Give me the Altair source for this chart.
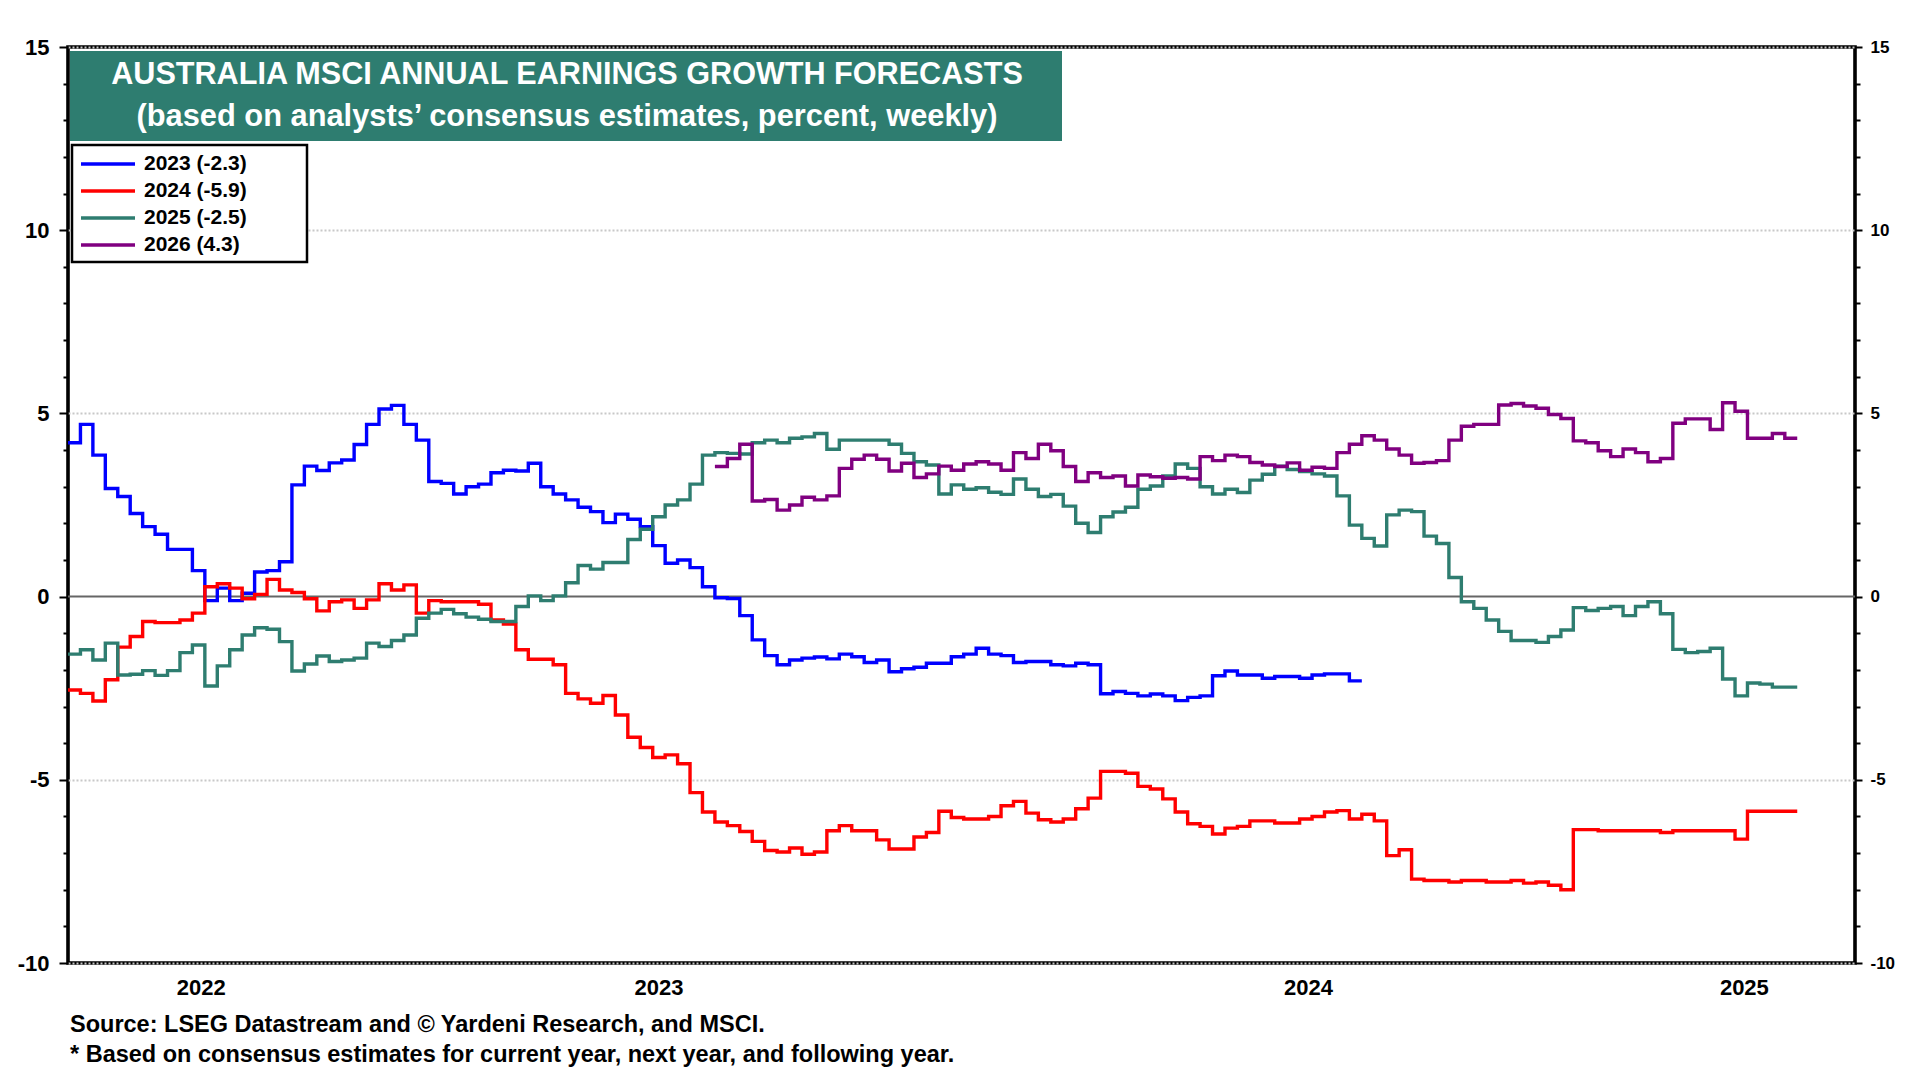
import altair as alt
import pandas as pd

FONT = "Liberation Sans"

TITLE_LINES = [
    "AUSTRALIA MSCI ANNUAL EARNINGS GROWTH FORECASTS",
    "(based on analysts\u2019 consensus estimates, percent, weekly)",
]
FOOTER_LINES = [
    "Source: LSEG Datastream and \u00a9 Yardeni Research, and MSCI.",
    "* Based on consensus estimates for current year, next year, and following year.",
]

SERIES = ["2023", "2024", "2025", "2026"]
COLORS = ["#0000ff", "#ff0000", "#2e7d70", "#800080"]
FIRST_WEEK = "2022-08-04"
START_INDEX = [0, 0, 0, 52]   # week index at which each series begins

V2023 = [
    4.2, 4.7, 3.86, 2.95, 2.73, 2.27, 1.91, 1.7, 1.29, 1.29,
    0.71, -0.11, 0.23, -0.11, 0.09, 0.67, 0.71, 0.95, 3.05, 3.56,
    3.44, 3.65, 3.73, 4.15, 4.7, 5.12, 5.22, 4.7, 4.27, 3.14,
    3.09, 2.8, 3.0, 3.07, 3.38, 3.45, 3.43, 3.64, 3.0, 2.8,
    2.64, 2.44, 2.32, 2.02, 2.25, 2.11, 1.91, 1.39, 0.91, 1.0,
    0.79, 0.27, -0.03, -0.05, -0.52, -1.18, -1.61, -1.86, -1.73, -1.68,
    -1.65, -1.7, -1.57, -1.64, -1.8, -1.73, -2.05, -1.97, -1.93, -1.82,
    -1.82, -1.64, -1.57, -1.41, -1.57, -1.61, -1.8, -1.77, -1.77, -1.86,
    -1.89, -1.82, -1.86, -2.65, -2.59, -2.64, -2.71, -2.66, -2.71, -2.84,
    -2.75, -2.71, -2.16, -2.03, -2.14, -2.14, -2.23, -2.18, -2.18, -2.23,
    -2.14, -2.11, -2.11, -2.3,
]
V2024 = [
    -2.55, -2.64, -2.85, -2.27, -1.38, -1.09, -0.68, -0.71, -0.71, -0.64,
    -0.45, 0.27, 0.35, 0.23, -0.06, 0.06, 0.47, 0.18, 0.11, -0.06,
    -0.39, -0.14, -0.09, -0.32, -0.09, 0.35, 0.18, 0.32, -0.45, -0.11,
    -0.14, -0.14, -0.14, -0.21, -0.64, -0.75, -1.45, -1.71, -1.71, -1.86,
    -2.64, -2.79, -2.91, -2.7, -3.23, -3.84, -4.12, -4.39, -4.32, -4.56,
    -5.35, -5.88, -6.15, -6.25, -6.41, -6.68, -6.93, -6.97, -6.86, -7.03,
    -6.97, -6.39, -6.25, -6.39, -6.39, -6.64, -6.89, -6.89, -6.56, -6.44,
    -5.86, -6.03, -6.07, -6.07, -6.0, -5.71, -5.59, -5.91, -6.09, -6.15,
    -6.07, -5.79, -5.5, -4.77, -4.77, -4.82, -5.18, -5.25, -5.52, -5.88,
    -6.2, -6.27, -6.48, -6.32, -6.27, -6.12, -6.12, -6.18, -6.18, -6.07,
    -6.0, -5.88, -5.84, -6.07, -5.94, -6.12, -7.07, -6.91, -7.71, -7.75,
    -7.75, -7.79, -7.75, -7.75, -7.79, -7.79, -7.75, -7.82, -7.79, -7.88,
    -8.0, -6.36, -6.36, -6.39, -6.39, -6.39, -6.39, -6.39, -6.44, -6.39,
    -6.39, -6.39, -6.39, -6.39, -6.62, -5.86, -5.86, -5.86, -5.86,
]
V2025 = [
    -1.57, -1.45, -1.73, -1.27, -2.14, -2.12, -2.02, -2.15, -2.02, -1.53,
    -1.32, -2.44, -1.89, -1.45, -1.05, -0.85, -0.89, -1.23, -2.03, -1.84,
    -1.62, -1.77, -1.73, -1.68, -1.27, -1.36, -1.2, -1.05, -0.59, -0.45,
    -0.35, -0.47, -0.56, -0.62, -0.68, -0.68, -0.27, 0.02, -0.11, 0.02,
    0.38, 0.85, 0.75, 0.93, 0.93, 1.56, 1.84, 2.18, 2.5, 2.64,
    3.07, 3.86, 3.93, 3.91, 3.89, 4.2, 4.27, 4.2, 4.32, 4.36,
    4.45, 4.02, 4.27, 4.27, 4.27, 4.27, 4.16, 3.91, 3.68, 3.59,
    2.8, 3.05, 2.93, 2.97, 2.85, 2.79, 3.21, 2.93, 2.73, 2.79,
    2.47, 2.0, 1.75, 2.18, 2.31, 2.44, 2.93, 3.02, 3.29, 3.62,
    3.5, 3.0, 2.8, 2.93, 2.84, 3.18, 3.34, 3.56, 3.47, 3.41,
    3.35, 3.29, 2.75, 1.95, 1.59, 1.38, 2.23, 2.36, 2.32, 1.65,
    1.45, 0.52, -0.14, -0.32, -0.64, -0.95, -1.2, -1.2, -1.25, -1.09,
    -0.91, -0.3, -0.38, -0.32, -0.27, -0.52, -0.27, -0.14, -0.47, -1.44,
    -1.53, -1.5, -1.41, -2.25, -2.71, -2.36, -2.39, -2.47, -2.47,
]
V2026 = [
    3.55, 3.77, 4.16, 2.61, 2.65, 2.36, 2.5, 2.71, 2.64, 2.75,
    3.5, 3.75, 3.86, 3.75, 3.43, 3.64, 3.25, 3.35, 3.56, 3.45,
    3.62, 3.68, 3.62, 3.45, 3.93, 3.77, 4.16, 3.98, 3.55, 3.14,
    3.38, 3.25, 3.29, 3.02, 3.32, 3.27, 3.23, 3.25, 3.21, 3.82,
    3.71, 3.86, 3.82, 3.66, 3.59, 3.55, 3.65, 3.45, 3.53, 3.5,
    3.93, 4.16, 4.39, 4.27, 4.03, 3.86, 3.64, 3.66, 3.71, 4.27,
    4.65, 4.7, 4.7, 5.23, 5.27, 5.2, 5.14, 4.97, 4.86, 4.25,
    4.2, 3.98, 3.82, 4.03, 3.93, 3.68, 3.77, 4.73, 4.85, 4.85,
    4.56, 5.29, 5.06, 4.32, 4.32, 4.45, 4.32,
]

X_START = (2022, 8, 4, 0)
X_END = (2025, 5, 5, 12)
YEARS = [2022, 2023, 2024, 2025]
Y_DOMAIN = [-10, 15]

W, H = 1787, 916

# ---------------------------------------------------------------- data
values = [V2023, V2024, V2025, V2026]
n_weeks = max(s + len(v) for s, v in zip(START_INDEX, values)) + 1
weeks = pd.date_range(FIRST_WEEK, periods=n_weeks, freq="7D")
labels = [f"{n} ({v[-1]:.1f})" for n, v in zip(SERIES, values)]
rows = []
for order, (lab, s, vals) in enumerate(zip(labels, START_INDEX, values)):
    pts = list(vals) + [vals[-1]]  # hold the last weekly reading through its week
    for i, v in enumerate(pts):
        rows.append({"date": weeks[s + i], "value": v, "series": lab, "o": order})
df = pd.DataFrame(rows)

d0 = pd.Timestamp(year=X_START[0], month=X_START[1], day=X_START[2], hour=X_START[3])
d1 = pd.Timestamp(year=X_END[0], month=X_END[1], day=X_END[2], hour=X_END[3])
ylab = []
for y in YEARS:
    a = max(pd.Timestamp(year=y, month=1, day=1), d0)
    b = min(pd.Timestamp(year=y + 1, month=1, day=1), d1)
    ylab.append({"mid": a + (b - a) / 2, "label": str(y)})
ylab_df = pd.DataFrame(ylab)

quarters = [t for t in pd.date_range("2022-01-01", "2025-12-31", freq="QS") if d0 <= t <= d1]
x_vals = [alt.DateTime(year=t.year, month=t.month, date=1) for t in quarters]

x_scale = alt.Scale(
    domain=[
        alt.DateTime(year=X_START[0], month=X_START[1], date=X_START[2], hours=X_START[3]),
        alt.DateTime(year=X_END[0], month=X_END[1], date=X_END[2], hours=X_END[3]),
    ],
    nice=False,
)
y_scale = alt.Scale(domain=Y_DOMAIN, nice=False, zero=False)

x_axis = alt.Axis(
    values=x_vals, labels=False, title=None, domain=False,
    tickColor="black", tickWidth=2,
    tickSize={"condition": {"test": "month(datum.value) === 0", "value": 8}, "value": 4},
    grid=True, gridColor="#c8c8c8", gridWidth=2, gridDash=[3, 3],
    gridOpacity={"condition": {"test": "month(datum.value) === 0", "value": 1}, "value": 0},
)

y_left = alt.Axis(
    orient="left", values=list(range(Y_DOMAIN[0], Y_DOMAIN[1] + 1)), title=None, domain=False,
    labelExpr="datum.value % 5 === 0 ? '' + datum.value : ''",
    labelFont=FONT, labelFontSize=22, labelFontWeight="bold", labelColor="black",
    labelPadding=10,
    tickColor="black", tickWidth=2,
    tickSize={"condition": {"test": "datum.value % 5 === 0", "value": 9}, "value": 5},
    grid=True, gridColor="#c8c8c8", gridWidth=2, gridDash=[2, 2],
    gridOpacity={"condition": {"test": "datum.value % 5 === 0 && datum.value !== 0", "value": 1}, "value": 0},
)

y_right = alt.Axis(
    orient="right", values=list(range(Y_DOMAIN[0], Y_DOMAIN[1] + 1)), title=None, domain=False,
    labelExpr="datum.value % 5 === 0 ? '' + datum.value : ''",
    labelFont=FONT, labelFontSize=17, labelFontWeight="bold", labelColor="black",
    labelPadding=8,
    tickColor="black", tickWidth=2,
    tickSize={"condition": {"test": "datum.value % 5 === 0", "value": 7}, "value": 5},
    grid=False,
)

# trailing spaces (kept by a zero-width word joiner) widen the legend box like the original
pad = "\u00a0" * 9 + "\u2060"
legend = alt.Legend(
    orient="none", legendX=4, legendY=98, title=None,
    symbolType="M-1,0H4.4", symbolSize=400, symbolStrokeWidth=3.5,
    labelFont=FONT, labelFontSize=21, labelFontWeight="bold", labelColor="black",
    labelOffset=41, labelExpr="datum.label + '" + pad + "'",
    padding=7, rowPadding=5, fillColor="white", strokeColor="black",
)

lines = alt.Chart(df).mark_line(interpolate="step-after", strokeWidth=3.4).encode(
    x=alt.X("date:T", scale=x_scale, axis=x_axis),
    y=alt.Y("value:Q", scale=y_scale, axis=y_left),
    color=alt.Color("series:N", scale=alt.Scale(domain=labels, range=COLORS), legend=legend),
    order=alt.Order("o:Q"),
)

zero = alt.Chart(pd.DataFrame({"v": [0]})).mark_rule(color="#666666", strokeWidth=2).encode(
    y=alt.Y("v:Q", scale=y_scale, axis=y_right)
)

year_text = alt.Chart(ylab_df).mark_text(
    font=FONT, fontSize=22, fontWeight="bold", color="black", baseline="middle", align="center"
).encode(
    x=alt.X("mid:T", scale=x_scale, axis=None),
    y=alt.value(H + 25),
    text="label:N",
)

box = alt.Chart(pd.DataFrame({"k": [0]})).mark_rect(color="#2e7d70").encode(
    x=alt.value(2), x2=alt.value(994), y=alt.value(4), y2=alt.value(94)
)


def text_layer(txt, x, y, size, color, align):
    return alt.Chart(pd.DataFrame({"t": [txt]})).mark_text(
        font=FONT, fontSize=size, fontWeight="bold", color=color, align=align, baseline="middle"
    ).encode(text="t:N", x=alt.value(x), y=alt.value(y))


title1 = text_layer(TITLE_LINES[0], 499, 28, 30.6, "white", "center")
title2 = text_layer(TITLE_LINES[1], 499, 70, 30.8, "white", "center")
foot1 = text_layer(FOOTER_LINES[0], 2, 978, 23.5, "black", "left")
foot2 = text_layer(FOOTER_LINES[1], 2, 1008, 23.5, "black", "left")

chart = (
    alt.layer(box, title1, title2, zero, lines, year_text, foot1, foot2)
    .resolve_scale(y="independent")
    .properties(
        width=W, height=H,
        autosize=alt.AutoSizeParams(type="none"),
        padding={"left": 60, "top": 39, "right": 50, "bottom": 109},
    )
    .configure(font=FONT)
    .configure_view(stroke="black", strokeWidth=3.6)
    .configure_legend(strokeWidth=2.5)
)

chart.save("out.html", embed_options={"renderer": "svg", "actions": False})
